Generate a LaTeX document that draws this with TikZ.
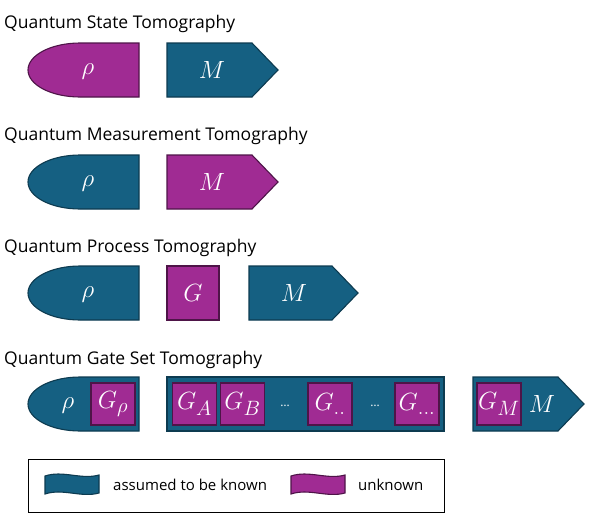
\documentclass[tikz,border=0pt]{standalone}
\usepackage{fontspec}
\setmainfont{Open Sans}
\definecolor{kblue}{HTML}{156082}
\definecolor{kblueD}{HTML}{0D3B50}
\definecolor{upurp}{HTML}{A02B93}
\definecolor{upurpD}{HTML}{4E1448}
\tikzset{
  known/.style={fill=kblue, draw=kblueD, line width=1.1pt, line join=miter},
  unknown/.style={fill=upurp, draw=upurpD, line width=1.1pt, line join=miter},
  ttl/.style={anchor=base west, inner sep=0pt, font=\fontsize{17.5}{20}\selectfont},
  sym/.style={text=white, inner sep=0pt, font=\fontsize{30}{32}\selectfont},
  gbox/.style={unknown, text=white, inner sep=0pt, minimum width=44pt, minimum height=42pt, font=\fontsize{30}{32}\selectfont},
  dots/.style={text=white, inner sep=0pt, font=\fontsize{12}{14}\selectfont},
  legtxt/.style={anchor=west, inner sep=0pt, font=\fontsize{15}{18}\selectfont},
}
% bullet shape: style, left x, top y, right x
\newcommand\bulletshape[4]{%
  \draw[#1] ({#2+52},#3) -- (#4,#3) -- (#4,{#3+54}) -- ({#2+52},{#3+54})
    .. controls ({#2+23.3},{#3+54}) and (#2,{#3+41.9}) .. (#2,{#3+27})
    .. controls (#2,{#3+12.1}) and ({#2+23.3},#3) .. cycle;}
% pentagon shape: style, left x, top y, right edge x, tip x
\newcommand\pentshape[5]{%
  \draw[#1] (#2,#3) -- (#4,#3) -- (#5,{#3+27}) -- (#4,{#3+54}) -- (#2,{#3+54}) -- cycle;}
% wave flag: style, left x, top y, width
\newcommand\waveflag[4]{%
  \draw[#1] (#2,{#3+2}) .. controls ({#2+#4/3},{#3-4}) and ({#2+2*#4/3},{#3+6}) .. ({#2+#4},{#3+1})
    -- ({#2+#4},{#3+19}) .. controls ({#2+2*#4/3},{#3+24}) and ({#2+#4/3},{#3+14}) .. (#2,{#3+20}) -- cycle;}
\begin{document}
\begin{tikzpicture}[x=1pt,y=-1pt]
\useasboundingbox (0,0) rectangle (598,520);
% Row 1
\node[ttl] (t1) at (4,28) {Quantum State Tomography};
\bulletshape{unknown}{28}{43}{139}
\node[sym] (r1) at (88,72) {$\rho$};
\pentshape{known}{167}{43}{252}{278}
\node[sym] (m1) at (212,70) {$M$};
% Row 2
\node[ttl] (t2) at (4,140) {Quantum Measurement Tomography};
\bulletshape{known}{28}{155}{139}
\node[sym] (r2) at (88,184) {$\rho$};
\pentshape{unknown}{167}{155}{252}{278}
\node[sym] (m2) at (212,182) {$M$};
% Row 3
\node[ttl] (t3) at (4,252) {Quantum Process Tomography};
\bulletshape{known}{28}{266}{139}
\node[sym] (r3) at (88,295) {$\rho$};
\node[gbox, minimum width=52pt, minimum height=54pt] (g3) at (193,293) {$G$};
\pentshape{known}{249}{266}{332}{358}
\node[sym] (m3) at (294,293) {$M$};
% Row 4
\node[ttl] (t4) at (4,364) {Quantum Gate Set Tomography};
\bulletshape{known}{28}{377}{139}
\node[sym] (r4) at (68,406) {$\rho$};
\node[gbox] (grho) at (113,404) {$G_\rho$};
\draw[known] (167,377) rectangle (444,431);
\node[gbox] (ga) at (194.5,404) {$G_A$};
\node[gbox] (gb) at (242.5,404) {$G_B$};
\node[dots] (d1) at (285,406) {\dots};
\node[gbox] (gc) at (330,404) {$G_{..}$};
\node[dots] (d2) at (375,406) {\dots};
\node[gbox] (gd) at (417,404) {$G_{...}$};
\pentshape{known}{473}{377}{558}{584}
\node[gbox] (gm) at (499,404) {$G_M$};
\node[sym] (m4) at (542,404) {$M$};
% Legend
\node[draw=black, line width=1.1pt, minimum width=416pt, minimum height=53pt, inner sep=0pt, anchor=north west] (legend) at (28,459) {};
\waveflag{known}{45}{474}{54}
\node[legtxt] (lk) at (113,485) {assumed to be known};
\waveflag{unknown}{291}{474}{54}
\node[legtxt] (lu) at (358,485) {unknown};
\end{tikzpicture}
\end{document}
